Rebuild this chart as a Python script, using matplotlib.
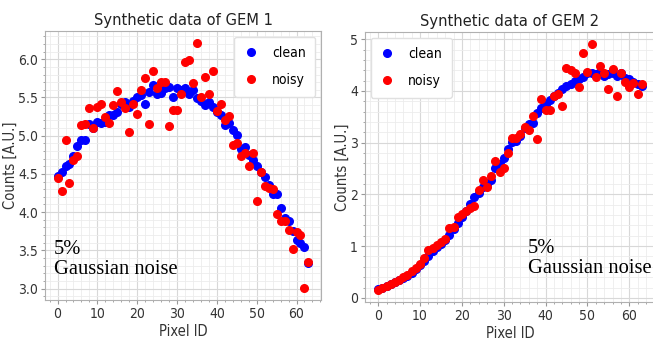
import matplotlib
matplotlib.use("Agg")
from matplotlib import pyplot as plt

plt.rcParams['font.family'] = ['DejaVu Sans']
plt.rcParams['font.stretch'] = 'condensed'

pixel = list(range(64))

# GEM 1
gem1_clean = [4.47, 4.52, 4.60, 4.63, 4.74, 4.87, 4.95, 4.94, 5.15, 5.10,
              5.18, 5.17, 5.18, 5.27, 5.27, 5.31, 5.42, 5.44, 5.38, 5.45,
              5.50, 5.53, 5.42, 5.57, 5.66, 5.54, 5.56, 5.62, 5.64, 5.51,
              5.63, 5.60, 5.62, 5.54, 5.60, 5.49, 5.46, 5.40, 5.44, 5.38,
              5.31, 5.27, 5.14, 5.16, 5.08, 5.01, 4.82, 4.85, 4.75, 4.68,
              4.60, 4.53, 4.46, 4.36, 4.24, 4.24, 4.05, 3.92, 3.88, 3.75,
              3.64, 3.60, 3.54, 3.34]
gem1_noisy = [4.44, 4.27, 4.94, 4.38, 4.68, 4.74, 5.14, 5.15, 5.36, 5.10,
              5.38, 5.41, 5.25, 5.16, 5.40, 5.59, 5.44, 5.36, 5.05, 5.41,
              5.28, 5.60, 5.76, 5.15, 5.85, 5.63, 5.70, 5.70, 5.13, 5.33,
              5.34, 5.54, 5.96, 5.99, 5.69, 6.21, 5.51, 5.77, 5.55, 5.85,
              5.32, 5.42, 5.20, 5.26, 4.88, 4.90, 4.74, 4.78, 4.60, 4.78,
              4.15, 4.53, 4.34, 4.31, 4.30, 3.98, 3.89, 3.89, 3.76, 3.52,
              3.74, 3.70, 3.01, 3.35]

# GEM 2
gem2_clean = [0.17, 0.20, 0.23, 0.26, 0.30, 0.34, 0.38, 0.43, 0.49, 0.56,
              0.64, 0.72, 0.80, 0.90, 0.98, 1.05, 1.12, 1.22, 1.33, 1.45,
              1.56, 1.68, 1.82, 1.95, 2.02, 2.14, 2.20, 2.28, 2.52, 2.58,
              2.70, 2.88, 3.01, 3.04, 3.13, 3.28, 3.36, 3.39, 3.58, 3.68,
              3.74, 3.82, 3.90, 3.96, 4.03, 4.10, 4.14, 4.19, 4.23, 4.27,
              4.34, 4.34, 4.32, 4.37, 4.29, 4.32, 4.34, 4.29, 4.34, 4.26,
              4.23, 4.18, 4.13, 4.10]
gem2_noisy = [0.16, 0.20, 0.23, 0.26, 0.31, 0.35, 0.40, 0.44, 0.52, 0.57,
              0.65, 0.78, 0.92, 0.97, 1.03, 1.08, 1.14, 1.36, 1.37, 1.57,
              1.63, 1.68, 1.74, 1.77, 2.09, 2.28, 2.14, 2.36, 2.64, 2.43,
              2.51, 2.81, 3.09, 3.09, 3.17, 3.31, 3.24, 3.52, 3.07, 3.84,
              3.63, 3.63, 3.91, 3.95, 3.71, 4.45, 4.40, 4.35, 4.08, 4.74,
              4.37, 4.90, 4.27, 4.48, 4.34, 4.03, 4.42, 3.91, 4.34, 4.18,
              4.08, 4.16, 3.95, 4.14]

titles = ["Synthetic data of GEM 1", "Synthetic data of GEM 2"]
note = "5%\nGaussian noise"

W, H = 653, 345
fig = plt.figure(figsize=(W / 100, H / 100), dpi=100)

def px_rect(left, top, right, bottom):
    return [left / W, 1 - bottom / H, (right - left) / W, (bottom - top) / H]

ax1 = fig.add_axes(px_rect(45, 31, 321, 300))
ax2 = fig.add_axes(px_rect(365, 32, 655, 302))

def style(ax, clean, noisy, title, loc):
    ax.plot(pixel, clean, 'o', color='blue', markersize=5.5, label='clean')
    ax.plot(pixel, noisy, 'o', color='red', markersize=5.5, label='noisy')
    ax.set_title(title, fontsize=11.8, color='#222222', pad=4)
    ax.set_xlabel("Pixel ID", fontsize=10.5, color='#333333', labelpad=2)
    ax.set_ylabel("Counts [A.U.]", fontsize=10.5, color='#333333', labelpad=0)
    ax.set_xticks([0, 10, 20, 30, 40, 50, 60])
    ax.minorticks_on()
    ax.grid(which='major', color='#d8d8d8', linewidth=0.8)
    ax.grid(which='minor', color='#ececec', linewidth=0.6)
    ax.set_axisbelow(True)
    ax.tick_params(labelsize=10, labelcolor='#333333', color='#999999',
                   length=3, pad=2)
    ax.tick_params(which='minor', length=1.5, color='#999999')
    for s in ax.spines.values():
        s.set_color('#b0b0b0')
    ax.legend(loc=loc, fontsize=10, markerscale=1.0, framealpha=1,
              edgecolor='#e0e0e0', handlelength=1.0, handletextpad=1.0,
              labelspacing=0.9, borderpad=0.7, borderaxespad=0.4)

style(ax1, gem1_clean, gem1_noisy, titles[0], 'upper right')
style(ax2, gem2_clean, gem2_noisy, titles[1], 'upper left')
ax1.set_yticks([3.0, 3.5, 4.0, 4.5, 5.0, 5.5, 6.0])
ax1.set_ylim(2.85, 6.37)
ax2.set_yticks([0, 1, 2, 3, 4, 5])
ax2.set_ylim(-0.08, 5.14)

for x, y in [(54, 274), (528, 273)]:
    fig.text(x / W, 1 - y / H, note, family='Liberation Serif', fontsize=14.8,
             va='baseline', ha='left', linespacing=1.05)

fig.savefig("out.png", dpi=100)
